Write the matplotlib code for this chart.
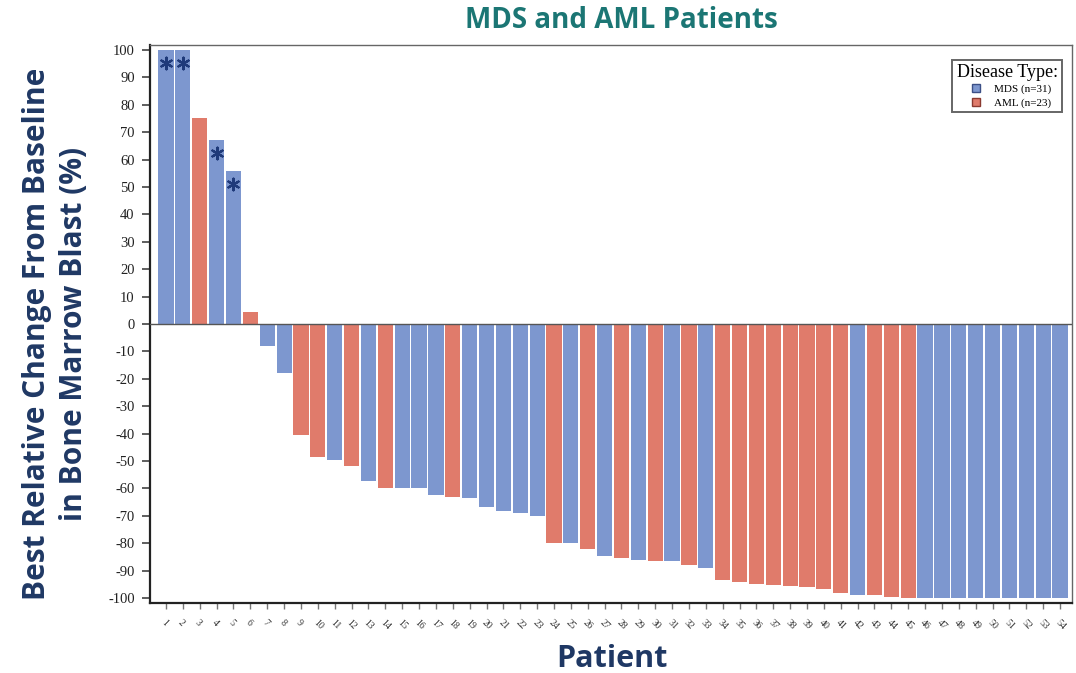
import matplotlib
matplotlib.use("Agg")
import matplotlib.pyplot as plt
from matplotlib.lines import Line2D
import matplotlib.transforms as mtransforms

# Best relative change in bone marrow blast (%) per patient, sorted waterfall order
patients = list(range(1, 55))
change = [100, 100, 75, 67, 56, 4.5, -8, -18, -40.5, -48.6,
          -49.8, -51.8, -57.4, -60, -60, -60, -62.3, -63.3, -63.5, -66.8,
          -68.3, -69, -70.2, -80, -80, -82, -84.6, -85.4, -86, -86.6,
          -86.6, -88, -89, -93.3, -94.2, -94.8, -95.4, -95.7, -96.1, -96.6,
          -98.2, -98.9, -99, -99.5, -100, -100, -100, -100, -100, -100,
          -100, -100, -100, -100]
disease = ["MDS", "MDS", "AML", "MDS", "MDS", "AML", "MDS", "MDS", "AML", "AML",
           "MDS", "AML", "MDS", "AML", "MDS", "MDS", "MDS", "AML", "MDS", "MDS",
           "MDS", "MDS", "MDS", "AML", "MDS", "AML", "MDS", "AML", "MDS", "AML",
           "MDS", "AML", "MDS", "AML", "AML", "AML", "AML", "AML", "AML", "AML",
           "AML", "MDS", "AML", "AML", "AML", "MDS", "MDS", "MDS", "MDS", "MDS",
           "MDS", "MDS", "MDS", "MDS"]
flagged = [1, 2, 4, 5]  # patients marked with an asterisk

colors = {"MDS": "#7d97cf", "AML": "#e07b6b"}
edge_colors = {"MDS": "#3b4f86", "AML": "#8a3a30"}
n_mds = disease.count("MDS")
n_aml = disease.count("AML")

W, H, DPI = 1076, 673, 100
fig = plt.figure(figsize=(W / DPI, H / DPI), dpi=DPI)
ax = fig.add_axes([150 / W, 1 - 603 / H, (1072 - 150) / W, (603 - 45) / H])

ax.bar(patients, change, width=0.9,
       color=[colors[d] for d in disease], linewidth=0, zorder=2)
ax.axhline(0, color="#555555", linewidth=1.0, zorder=3)

# asterisks just below the top of flagged bars
star_tf = mtransforms.offset_copy(ax.transData, fig=fig, y=-13, units="dots")
ax.scatter(flagged, [change[p - 1] for p in flagged],
           marker=(6, 2, 0), s=70, color="#1f3a7a", linewidths=1.6,
           transform=star_tf, zorder=4)

ax.set_xlim(0.05, 54.71)
ax.set_ylim(-101.8, 101.8)
ax.set_yticks(range(-100, 101, 10))
ax.set_yticklabels([str(v) for v in range(-100, 101, 10)],
                   fontfamily="Liberation Serif", fontsize=10.5, color="#222222")
ax.set_xticks(patients)
ax.set_xticklabels([str(p) for p in patients], rotation=-45, ha="left",
                   va="top", rotation_mode="anchor",
                   fontfamily="Liberation Serif", fontsize=7, color="#333333")
ax.tick_params(axis="y", direction="out", length=6, width=1.1, pad=5,
               color="#333333")
ax.tick_params(axis="x", direction="out", length=4, width=1.0, pad=7,
               color="#777777")
for side in ["top", "right"]:
    ax.spines[side].set_color("#666666")
    ax.spines[side].set_linewidth(1.0)
for side in ["left", "bottom"]:
    ax.spines[side].set_color("#222222")
    ax.spines[side].set_linewidth(1.6)

navy = "#1f3864"
fig.text(621 / W, 1 - 21 / H, "MDS and AML Patients", ha="center", va="center",
         fontfamily="Open Sans", fontweight="bold", fontsize=20, color="#1b7674")
fig.text(612 / W, 1 - 659 / H, "Patient", ha="center", va="center",
         fontfamily="Open Sans", fontweight="bold", fontsize=22, color=navy)
fig.text(37 / W, 1 - 334 / H, "Best Relative Change From Baseline",
         ha="center", va="center", rotation=90,
         fontfamily="Open Sans", fontweight="bold", fontsize=21.5, color=navy)
fig.text(74 / W, 1 - 334 / H, "in Bone Marrow Blast (%)",
         ha="center", va="center", rotation=90,
         fontfamily="Open Sans", fontweight="bold", fontsize=21.5, color=navy)

handles = [
    Line2D([], [], linestyle="none", marker="s", markersize=5.5,
           markerfacecolor=colors["MDS"], markeredgecolor=edge_colors["MDS"],
           markeredgewidth=1.0, label=f"MDS (n={n_mds})"),
    Line2D([], [], linestyle="none", marker="s", markersize=5.5,
           markerfacecolor=colors["AML"], markeredgecolor=edge_colors["AML"],
           markeredgewidth=1.0, label=f"AML (n={n_aml})"),
]
leg = ax.legend(handles=handles, title="Disease Type:", loc="upper right",
                bbox_to_anchor=(1068 / W, 1 - 54 / H),
                bbox_transform=fig.transFigure,
                prop={"family": "Liberation Serif", "size": 8},
                title_fontproperties={"family": "Liberation Serif", "size": 13},
                fancybox=False, framealpha=1, edgecolor="#666666",
                handletextpad=0.5, handlelength=2.2, borderpad=0.4,
                labelspacing=0.3)
leg.get_frame().set_linewidth(1.4)

fig.savefig("out.png", dpi=DPI, facecolor="white")
